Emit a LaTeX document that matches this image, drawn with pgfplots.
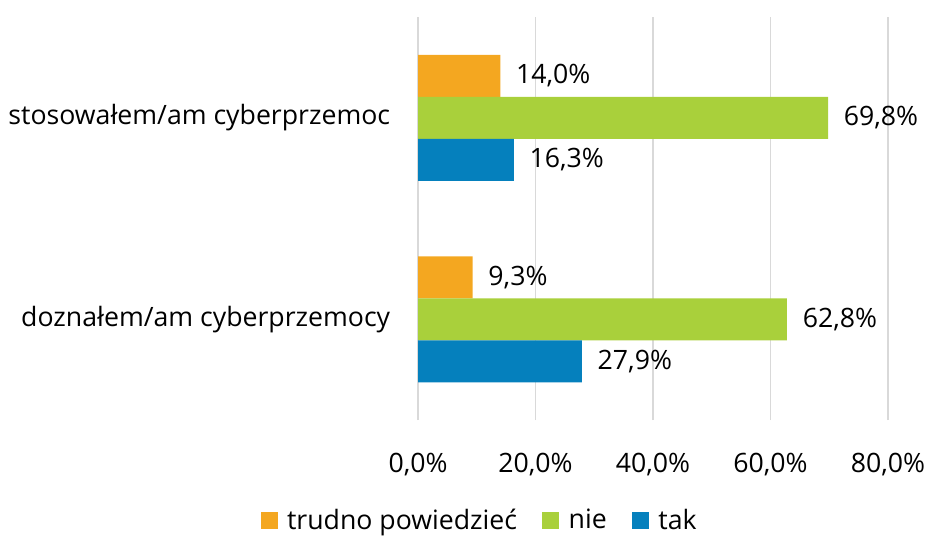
\documentclass[border=0pt]{standalone}
\usepackage{pgfplots}
\pgfplotsset{compat=1.18}
\usepackage{fontspec}
\setmainfont{Open Sans}
\definecolor{corange}{HTML}{F4A720}
\definecolor{cgreen}{HTML}{A9D03B}
\definecolor{cblue}{HTML}{0580BD}
\definecolor{cgrid}{HTML}{D9D9D9}
\begin{document}
\fontsize{20pt}{24pt}\selectfont
\begin{tikzpicture}
\begin{axis}[
  scale only axis,
  width=352.5pt, height=302.25pt,
  xbar, bar width=31.5pt,
  xmin=0, xmax=80, ymin=-0.5, ymax=1.5,
  xtick={0,20,40,60,80},
  ytick={0,1},
  yticklabels={doznałem/am cyberprzemocy, stosowałem/am cyberprzemoc},
  /pgf/number format/assume math mode=true,
  xticklabel={\pgfmathprintnumber[fixed,fixed zerofill,precision=1,use comma]{\tick}\%},
  xticklabel style={yshift=-18pt, font=\fontsize{20pt}{24pt}\selectfont},
  yticklabel style={xshift=-14pt, font=\fontsize{20pt}{24pt}\selectfont},
  major tick length=0pt,
  axis line style={draw=none},
  xmajorgrids, grid style={cgrid, line width=1.2pt},
  nodes near coords={\pgfmathprintnumber[fixed,fixed zerofill,precision=1,use comma]{\pgfplotspointmeta}\%},
  nodes near coords style={anchor=west, xshift=5pt, font=\fontsize{20pt}{24pt}\selectfont, text=black},
  point meta=explicit,
  legend style={at={(0.132,-0.251)}, anchor=center, draw=none, legend columns=-1,
    font=\fontsize{20pt}{24pt}\selectfont,
    /tikz/every odd column/.append style={column sep=5pt},
    /tikz/every even column/.append style={column sep=17pt}},
  legend image code/.code={\fill[#1] (0pt,-6pt) rectangle (12.75pt,6.75pt);},
  clip=false,
]
\addplot[fill=corange, draw=none, bar shift=31.5pt] coordinates {(9.3,0) [9.3] (14.0,1) [14.0]};
\addlegendentry{trudno powiedzieć}
\addplot[fill=cgreen, draw=none, bar shift=0pt] coordinates {(62.8,0) [62.8] (69.8,1) [69.8]};
\addlegendentry{nie}
\addplot[fill=cblue, draw=none, bar shift=-31.5pt] coordinates {(27.9,0) [27.9] (16.3,1) [16.3]};
\addlegendentry{tak}
\coordinate (bl) at (rel axis cs:-0.8894,-0.2878);
\coordinate (tr) at (rel axis cs:1.0851,1.0422);
\end{axis}
\pgfresetboundingbox
\path[use as bounding box] (bl) rectangle (tr);
\end{tikzpicture}
\end{document}
